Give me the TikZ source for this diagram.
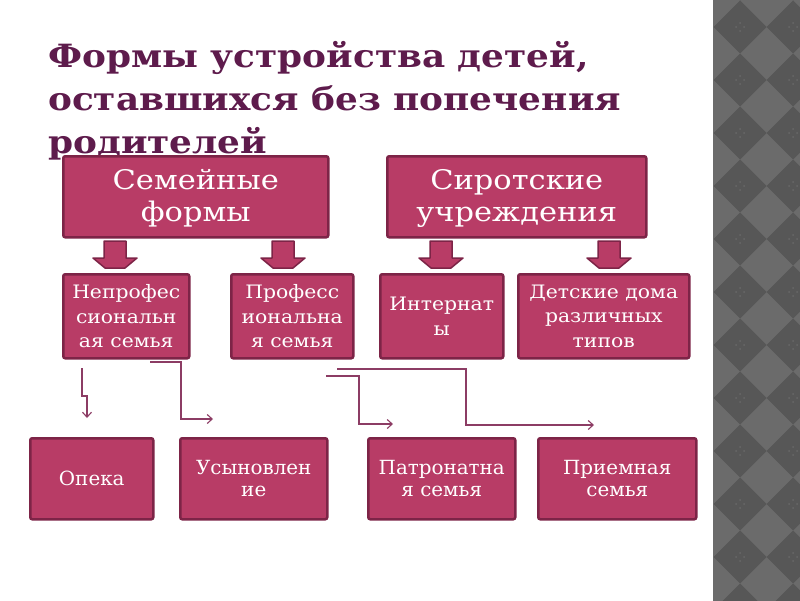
\documentclass[tikz,border=0pt]{standalone}
\usepackage{fontspec}
\setmainfont{DejaVu Serif}
\newfontfamily\titlefont[FakeStretch=1.12]{DejaVu Serif}
\newfontfamily\bigboxfont[FakeStretch=1.13]{DejaVu Serif}
\newfontfamily\midboxfont[FakeStretch=1.1]{DejaVu Serif}
\newfontfamily\lowboxfont[FakeStretch=1.02]{DejaVu Serif}
\usetikzlibrary{arrows.meta}
\definecolor{boxfill}{HTML}{B83C66}
\definecolor{boxline}{HTML}{7D2447}
\definecolor{titlecol}{HTML}{5E1B4C}
\definecolor{linkcol}{HTML}{8C3C64}
\definecolor{stripA}{HTML}{6B6B6B}
\definecolor{stripB}{HTML}{575757}
\definecolor{stripdot}{HTML}{686868}
\newcommand\mybox[7]{%
  \node[box, #7, minimum width={#4pt-#2pt}, minimum height={#5pt-#3pt}] (#1) at (#2,#3) {#6};}
\begin{document}
\begin{tikzpicture}[x=1pt,y=-1pt,
  box/.style={draw=boxline, line width=2.5pt, fill=boxfill, rounded corners=2pt,
    text=white, align=center, inner sep=0pt, anchor=north west},
  topbox/.style={font=\bigboxfont\fontsize{27pt}{32pt}\selectfont},
  midbox/.style={font=\midboxfont\fontsize{18.5pt}{24.5pt}\selectfont},
  lowbox/.style={font=\lowboxfont\fontsize{19.5pt}{22pt}\selectfont},
  link/.style={draw=linkcol, line width=1.1pt, -{Straight Barb[length=5pt,width=9pt]}},
  barrow/.pic={\filldraw[fill=boxfill, draw=boxline, line width=1.5pt, line join=round]
     (-11,0) -- (11,0) -- (11,17) -- (22,17) -- (10,27) -- (-10,27) -- (-22,17) -- (-11,17) -- cycle;}
]
\useasboundingbox (0,0) rectangle (800,600);
\fill[white] (-5,-5) rectangle (713,605);
% decorative strip
\fill[stripA] (713,-5) rectangle (805,605);
\begin{scope}
\clip (713,-5) rectangle (805,605);
\foreach \cx in {740,793}{
  \foreach \k in {-1,...,11}{
    \pgfmathsetmacro\cy{27+53*\k}
    \fill[stripB] (\cx,\cy-26.5) -- (\cx+26.5,\cy) -- (\cx,\cy+26.5) -- (\cx-26.5,\cy) -- cycle;
    \foreach \dx/\dy in {0/-4,0/4,-4/0,4/0}{
      \fill[stripdot] (\cx+\dx,\cy+\dy) circle (1);
    }
  }
}
\end{scope}
% title
\node[anchor=north west, inner sep=0pt, align=left, text=titlecol,
  font=\titlefont\bfseries\fontsize{32pt}{43pt}\selectfont] (title) at (48,41)
  {Формы устройства детей,\\оставшихся без попечения\\родителей};
% top boxes
\mybox{fam}{62}{155}{327}{236}{\rule{0pt}{24pt}Семейные\\формы}{topbox}
\mybox{orph}{386}{155}{645}{236}{\rule{0pt}{24pt}Сиротские\\учреждения}{topbox}
% block arrows
\pic at (115,241) {barrow};
\pic at (283,241) {barrow};
\pic at (441,241) {barrow};
\pic at (609,241) {barrow};
% middle boxes
\mybox{nonpro}{62}{273}{188}{357}{Непрофес\\сиональн\\ая семья}{midbox}
\mybox{pro}{230}{273}{352}{357}{Професс\\иональна\\я семья}{midbox}
\mybox{intern}{379}{273}{502}{357}{Интернат\\ы}{midbox}
\mybox{homes}{517}{273}{688}{357}{Детские дома\\различных\\типов}{midbox}
% bottom boxes
\mybox{opeka}{29}{437}{152}{518}{Опека}{lowbox}
\mybox{adopt}{179}{437}{326}{518}{Усыновлен\\ие}{lowbox}
\mybox{patron}{367}{437}{514}{518}{Патронатна\\я семья}{lowbox}
\mybox{foster}{537}{437}{695}{518}{Приемная\\семья}{lowbox}
% connectors
\coordinate (c1s) at (82,368);  \coordinate (c1e) at (87,418);
\coordinate (c2s) at (150,362); \coordinate (c2e) at (213,419);
\coordinate (c3s) at (326,376); \coordinate (c3e) at (393,424);
\coordinate (c4s) at (337,369); \coordinate (c4e) at (594,425);
\draw[link] (c1s) -- ++(0,28) -| (c1e);
\draw[link] (c2s) -| ([xshift=-32pt]c2e) -- (c2e);
\draw[link] (c3s) -| ([xshift=-34pt]c3e) -- (c3e);
\draw[link] (c4s) -| ([xshift=-128pt]c4e) -- (c4e);
\end{tikzpicture}
\end{document}
